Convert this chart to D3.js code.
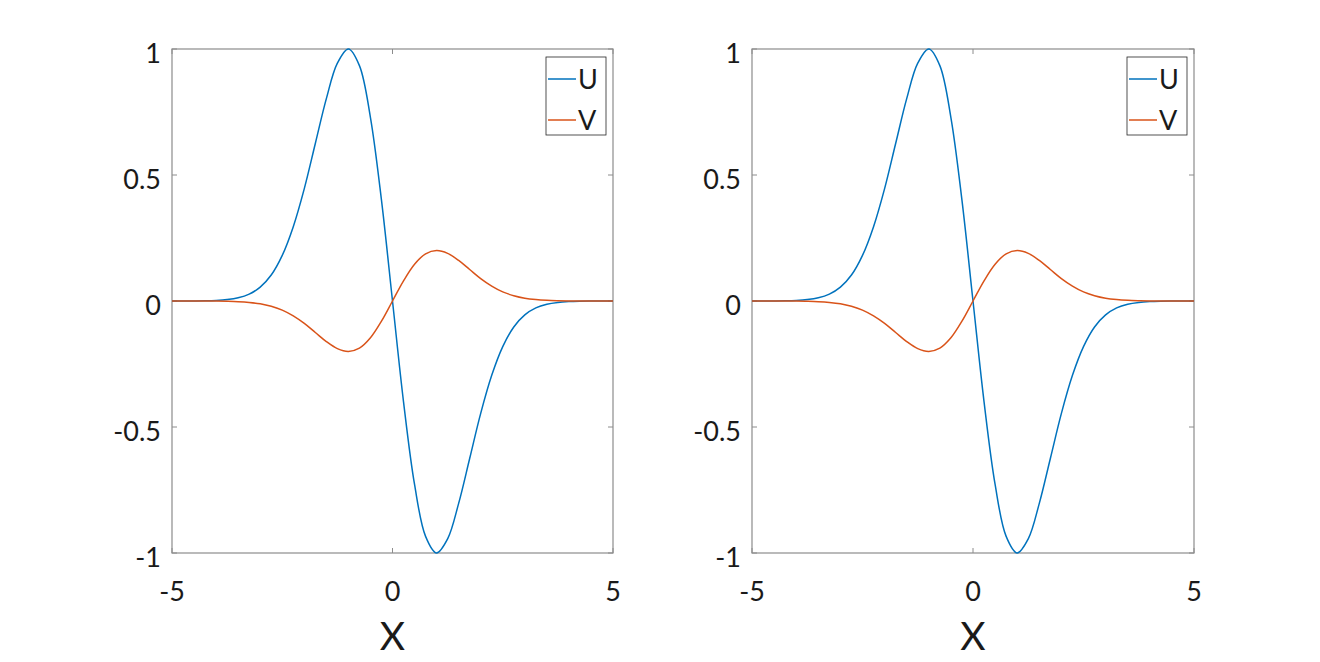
<!DOCTYPE html>
<html><head><meta charset="utf-8">
<script src="https://cdn.jsdelivr.net/npm/d3@7"></script>
<style>body{margin:0;background:#fff}svg{display:block}text{font-family:Lato,"Open Sans",sans-serif;fill:#1a1a1a}</style>
</head><body><svg id="c" width="1320" height="662"></svg>
<script>
const xValues = [-5,-4.75,-4.5,-4.25,-4,-3.75,-3.5,-3.25,-3,-2.75,-2.5,-2.25,-2,-1.75,-1.5,-1.25,-1,-0.75,-0.5,-0.25,0,0.25,0.5,0.75,1,1.25,1.5,1.75,2,2.25,2.5,2.75,3,3.25,3.5,3.75,4,4.25,4.5,4.75,5];
const uValues = [0,0.0001,0.0003,0.0008,0.0022,0.0055,0.0126,0.0273,0.055,0.103,0.181,0.295,0.446,0.625,0.803,0.944,1,0.934,0.728,0.4,0,-0.4,-0.728,-0.934,-1,-0.944,-0.803,-0.625,-0.446,-0.295,-0.181,-0.103,-0.055,-0.0273,-0.0126,-0.0055,-0.0022,-0.0008,-0.0003,-0.0001,0];
const vValues = [0,0,-0.0001,-0.0002,-0.0004,-0.0011,-0.0025,-0.0055,-0.011,-0.021,-0.036,-0.059,-0.089,-0.125,-0.161,-0.189,-0.2,-0.187,-0.146,-0.08,0,0.08,0.146,0.187,0.2,0.189,0.161,0.125,0.089,0.059,0.036,0.021,0.011,0.0055,0.0025,0.0011,0.0004,0.0002,0.0001,0,0];
const xTicks = [-5,0,5];
const yTicks = [-1,-0.5,0,0.5,1];
const yTickLabels = ["-1","-0.5","0","0.5","1"];
const seriesNames = ["U","V"];
const seriesColors = ["#0072BD","#D95319"];
const panels = [{left:172,right:613},{left:752,right:1194}];

const svg = d3.select("#c");
const plotTop = 49, plotBottom = 553;
const series = [uValues, vValues];

panels.forEach(p => {
  const g = svg.append("g");
  const x = d3.scaleLinear().domain([-5,5]).range([p.left,p.right]);
  const y = d3.scaleLinear().domain([-1,1]).range([plotBottom,plotTop]);
  g.append("rect").attr("x",p.left).attr("y",plotTop).attr("width",p.right-p.left).attr("height",plotBottom-plotTop)
    .attr("fill","none").attr("stroke","#8c8c8c").attr("stroke-width",1.2);
  const tl = 5;
  xTicks.forEach(t => {
    g.append("line").attr("x1",x(t)).attr("x2",x(t)).attr("y1",plotBottom).attr("y2",plotBottom-tl).attr("stroke","#8c8c8c");
    g.append("line").attr("x1",x(t)).attr("x2",x(t)).attr("y1",plotTop).attr("y2",plotTop+tl).attr("stroke","#8c8c8c");
    g.append("text").attr("x",x(t)).attr("y",601).attr("text-anchor","middle").attr("font-size",27).text(String(t));
  });
  yTicks.forEach((t,i) => {
    g.append("line").attr("x1",p.left).attr("x2",p.left+tl).attr("y1",y(t)).attr("y2",y(t)).attr("stroke","#8c8c8c");
    g.append("line").attr("x1",p.right).attr("x2",p.right-tl).attr("y1",y(t)).attr("y2",y(t)).attr("stroke","#8c8c8c");
    g.append("text").attr("x",p.left-11).attr("y",y(t)+14).attr("text-anchor","end").attr("font-size",27).text(yTickLabels[i]);
  });
  g.append("text").attr("x",(p.left+p.right)/2).attr("y",650).attr("text-anchor","middle").attr("font-size",39).text("X");
  const line = d3.line().x((d,i)=>x(xValues[i])).y(d=>y(d)).curve(d3.curveCatmullRom.alpha(0.5));
  series.forEach((s,k) => {
    g.append("path").datum(s).attr("d",line).attr("fill","none").attr("stroke",seriesColors[k]).attr("stroke-width",1.5);
  });
  const lw = 60, lh = 78, lx = p.right-7-lw, ly = 57;
  g.append("rect").attr("x",lx).attr("y",ly).attr("width",lw).attr("height",lh).attr("fill","#fff").attr("stroke","#262626").attr("stroke-width",0.8);
  seriesNames.forEach((n,k) => {
    const yy = ly + 22 + k*41;
    g.append("line").attr("x1",lx+2).attr("x2",lx+30).attr("y1",yy).attr("y2",yy).attr("stroke",seriesColors[k]).attr("stroke-width",1.5);
    g.append("text").attr("x",lx+32).attr("y",yy).attr("dy","0.36em").attr("font-size",27).text(n);
  });
});
</script></body></html>
